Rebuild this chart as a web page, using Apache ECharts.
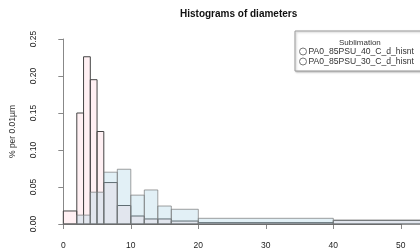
<!DOCTYPE html>
<html>
<head>
<meta charset="utf-8">
<script src="https://cdn.jsdelivr.net/npm/echarts@6/dist/echarts.min.js"></script>
<style>
  html, body { margin: 0; padding: 0; background: #fff; }
  #chart { width: 420px; height: 251px; }
</style>
</head>
<body>
<div id="chart"></div>
<script>
// bin edges (µm) and densities
const binEdges = [0, 2, 3, 4, 5, 6, 8, 10, 12, 14, 16, 20, 40, 60];
const pa40 = [0.0176, 0.150, 0.226, 0.195, 0.125, 0.056, 0.025, 0.0108, 0.0068, 0.0068, 0.0040, 0.0018, 0.0050];
const pa30 = [0, 0.012, 0.012, 0.043, 0.043, 0.070, 0.074, 0.039, 0.046, 0.0243, 0.0199, 0.0077, 0.0050];
const seriesNames = ['PA0_85PSU_40_C_d_hisnt', 'PA0_85PSU_30_C_d_hisnt'];
const xTicks = [0, 10, 20, 30, 40, 50];
const yTicks = [0, 0.05, 0.10, 0.15, 0.20, 0.25];

const font = 'Liberation Sans, Arial, sans-serif';

function toBins(values) {
    return values.map(function (v, i) {
        return [binEdges[i], binEdges[i + 1], v];
    });
}

function histItem(fill, stroke) {
    return function (params, api) {
        let p0 = api.coord([api.value(0), api.value(2)]);
        let p1 = api.coord([api.value(1), 0]);
        return {
            type: 'rect',
            shape: { x: p0[0], y: p0[1], width: p1[0] - p0[0], height: p1[1] - p0[1] },
            style: { fill: fill, stroke: stroke, lineWidth: 1 }
        };
    };
}

let myChart = echarts.init(document.getElementById('chart'));
let option = {
    animation: false,
    textStyle: { fontFamily: font },
    title: [
        {
            text: 'Histograms of diameters',
            left: 175,
            top: 4,
            textStyle: { fontSize: 10, fontWeight: 'bold', color: '#111', fontFamily: font }
        },
        {
            text: 'Sublimation',
            left: 334,
            top: 34,
            textStyle: { fontSize: 8, fontWeight: 'normal', color: '#333', fontFamily: font }
        }
    ],
    legend: {
        orient: 'vertical',
        left: 295,
        top: 31,
        padding: [16, 60, 5, 4],
        itemGap: 1,
        itemWidth: 7,
        itemHeight: 7,
        icon: 'circle',
        borderColor: '#999',
        borderWidth: 1,
        backgroundColor: '#fff',
        shadowColor: 'rgba(0,0,0,0.25)',
        shadowBlur: 2,
        shadowOffsetX: 1,
        shadowOffsetY: 1,
        textStyle: { fontSize: 8.6, color: '#333', padding: [0, 0, 0, -3] },
        data: [
            { name: seriesNames[0], itemStyle: { color: '#fff', borderColor: '#777', borderWidth: 1 } },
            { name: seriesNames[1], itemStyle: { color: '#fff', borderColor: '#777', borderWidth: 1 } }
        ]
    },
    grid: { left: 62.3, right: 19.2, top: 39, bottom: 27 },
    xAxis: {
        type: 'value',
        min: xTicks[0],
        max: xTicks[xTicks.length - 1],
        interval: 10,
        offset: 8,
        splitLine: { show: false },
        axisLine: { show: true, lineStyle: { color: '#888' } },
        axisTick: { show: true, length: 5, lineStyle: { color: '#888' } },
        axisLabel: { fontSize: 8.5, color: '#222', margin: 9 }
    },
    yAxis: {
        type: 'value',
        min: yTicks[0],
        max: yTicks[yTicks.length - 1],
        interval: 0.05,
        offset: 14.3,
        name: '% per 0.01µm',
        nameLocation: 'middle',
        nameGap: 32,
        nameTextStyle: { fontSize: 8.5, color: '#333' },
        splitLine: { show: false },
        axisLine: { show: true, lineStyle: { color: '#888' } },
        axisTick: { show: true, length: 5, lineStyle: { color: '#888' } },
        axisLabel: {
            fontSize: 8.5,
            color: '#222',
            rotate: 90,
            margin: 11,
            formatter: function (v) { return v.toFixed(2); }
        }
    },
    series: [
        {
            name: seriesNames[0],
            type: 'custom',
            renderItem: histItem('rgba(255, 205, 215, 0.3)', '#444'),
            itemStyle: { color: '#fdf0f2' },
            encode: { x: [0, 1], y: 2 },
            data: toBins(pa40),
            z: 2
        },
        {
            name: seriesNames[1],
            type: 'custom',
            renderItem: histItem('rgba(160, 205, 225, 0.3)', 'rgba(120,120,120,0.7)'),
            itemStyle: { color: '#e0f0f5' },
            encode: { x: [0, 1], y: 2 },
            data: toBins(pa30),
            z: 3
        }
    ]
};
myChart.setOption(option);
</script>
</body>
</html>
